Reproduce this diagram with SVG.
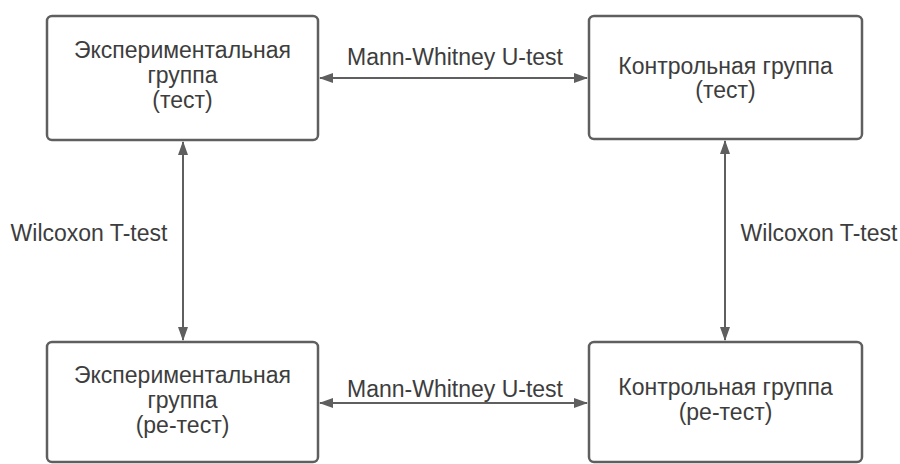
<svg xmlns="http://www.w3.org/2000/svg" width="900" height="464" viewBox="0 0 900 464">
<defs>
<style>
.box{fill:#ffffff;stroke:#5f5f5f;stroke-width:2.5}
.t{font-family:"Liberation Sans",Arial,sans-serif;font-size:23px;fill:#3d3d3d;text-anchor:middle}
.c{stroke:#5f5f5f;stroke-width:2;fill:none;marker-start:url(#ah);marker-end:url(#ah)}
</style>
<marker id="ah" viewBox="0 0 14 10" refX="13" refY="5" markerWidth="14" markerHeight="10" markerUnits="userSpaceOnUse" orient="auto-start-reverse">
<path d="M0,0 L14,5 L0,10 Z" fill="#5f5f5f"/>
</marker>
</defs>
<rect width="900" height="464" fill="#ffffff"/>
<g id="exp-test">
<rect class="box" x="47" y="16" width="271" height="124" rx="5"/>
<text class="t" x="182.5" y="58">Экспериментальная</text>
<text class="t" x="182.5" y="83">группа</text>
<text class="t" x="182.5" y="108">(тест)</text>
</g>
<g id="ctrl-test">
<rect class="box" x="589" y="16" width="273" height="123" rx="5"/>
<text class="t" x="725.5" y="74">Контрольная группа</text>
<text class="t" x="725.5" y="98">(тест)</text>
</g>
<g id="exp-retest">
<rect class="box" x="47" y="342" width="271" height="120" rx="5"/>
<text class="t" x="182.5" y="383">Экспериментальная</text>
<text class="t" x="182.5" y="408">группа</text>
<text class="t" x="182.5" y="433">(ре-тест)</text>
</g>
<g id="ctrl-retest">
<rect class="box" x="589" y="342" width="273" height="120" rx="5"/>
<text class="t" x="725.5" y="395">Контрольная группа</text>
<text class="t" x="725.5" y="420">(ре-тест)</text>
</g>
<g id="connectors">
<line class="c" x1="320" y1="78" x2="587" y2="78"/>
<line class="c" x1="320" y1="403" x2="587" y2="403"/>
<line class="c" x1="183" y1="142" x2="183" y2="340"/>
<line class="c" x1="725" y1="141" x2="725" y2="340"/>
<text class="t" x="455" y="65">Mann-Whitney U-test</text>
<text class="t" x="455" y="397">Mann-Whitney U-test</text>
<text class="t" x="89" y="241">Wilcoxon T-test</text>
<text class="t" x="819" y="241">Wilcoxon T-test</text>
</g>
</svg>
